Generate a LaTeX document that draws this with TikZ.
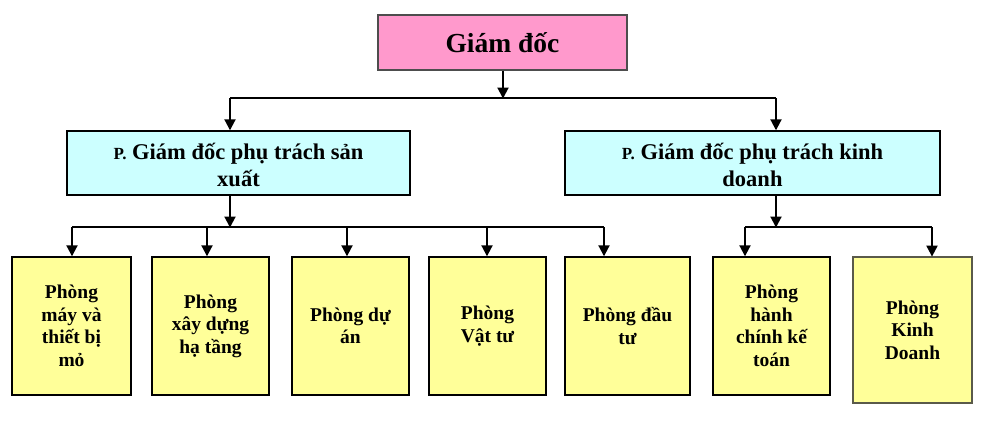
\documentclass[tikz,border=0pt]{standalone}
\usepackage{fontspec}
\setmainfont{Liberation Serif}
\usetikzlibrary{arrows.meta}
\definecolor{pinkbox}{HTML}{FF99CC}
\definecolor{cyanbox}{HTML}{CCFFFF}
\definecolor{yellowbox}{HTML}{FFFF99}
\definecolor{topborder}{HTML}{4D4D4D}
\definecolor{grayborder}{HTML}{5A5A4A}
\tikzset{
  box/.style={draw=black, line width=2.4pt, inner sep=0pt, align=center, font=\bfseries},
  topbox/.style={box, fill=pinkbox, draw=topborder, line width=1.8pt, font=\bfseries\fontsize{27.5}{30}\selectfont},
  midbox/.style={box, fill=cyanbox, font=\bfseries\fontsize{22.5}{27}\selectfont},
  unitbox/.style={box, fill=yellowbox, font=\bfseries\fontsize{19.5}{22.5}\selectfont},
  conn/.style={line width=2pt, draw=black},
  arr/.style={conn, -{Triangle[length=11pt,width=11pt]}, shorten >=-0.5pt},
}
\newcommand{\smP}{{\fontsize{17}{17}\selectfont P.}}
\begin{document}
\begin{tikzpicture}[x=1pt,y=-1pt]
\useasboundingbox (0,0) rectangle (983,421);
% boxes
\node[topbox, minimum width=249pt, minimum height=55pt] (gd) at (502.5,42.5) {Giám đốc};
\node[midbox, minimum width=343pt, minimum height=64pt] (pl) at (238.5,163) {\rule{0pt}{20pt}\smP\ Giám đốc phụ trách sản\\xuất};
\node[midbox, minimum width=375pt, minimum height=64pt] (pr) at (752.5,163) {\rule{0pt}{20pt}\smP\ Giám đốc phụ trách kinh\\doanh};
\node[unitbox, minimum width=119pt, minimum height=138pt] (u1) at (71.5,326) {Phòng\\máy và\\thiết bị\\mỏ};
\node[unitbox, minimum width=117pt, minimum height=138pt] (u2) at (210.5,326) {Phòng\\xây dựng\\hạ tầng};
\node[unitbox, minimum width=117pt, minimum height=138pt] (u3) at (350.5,326) {Phòng dự\\án};
\node[unitbox, minimum width=117pt, minimum height=138pt] (u4) at (487.5,326) {Phòng\\Vật tư};
\node[unitbox, minimum width=125pt, minimum height=138pt] (u5) at (627.5,326) {Phòng đầu\\tư};
\node[unitbox, minimum width=117pt, minimum height=138pt] (u6) at (771.5,326) {Phòng\\hành\\chính kế\\toán};
\node[unitbox, draw=grayborder, line width=1.8pt, minimum width=119pt, minimum height=146pt] (u7) at (912.5,330) {Phòng\\Kinh\\Doanh};
% junction coordinates
\coordinate (j0) at (503,98);
\coordinate (j0l) at (230,98);
\coordinate (j0r) at (776,98);
\coordinate (j1) at (230,227);
\coordinate (j1a) at (72,227);
\coordinate (j1b) at (207,227);
\coordinate (j1c) at (347,227);
\coordinate (j1d) at (487,227);
\coordinate (j1e) at (604,227);
\coordinate (j2) at (776,227);
\coordinate (j2a) at (745,227);
\coordinate (j2b) at (932,227);
% connectors level 1
\draw[arr] (gd.south -| j0) -- (j0);
\draw[conn] (j0l) -- (j0r);
\draw[arr] (j0l) -- (j0l |- pl.north);
\draw[arr] (j0r) -- (j0r |- pr.north);
% connectors level 2 left
\draw[arr] (pl.south -| j1) -- (j1);
\draw[conn] (j1a) -- (j1e);
\draw[arr] (j1a) -- (j1a |- u1.north);
\draw[arr] (j1b) -- (j1b |- u2.north);
\draw[arr] (j1c) -- (j1c |- u3.north);
\draw[arr] (j1d) -- (j1d |- u4.north);
\draw[arr] (j1e) -- (j1e |- u5.north);
% connectors level 2 right
\draw[arr] (pr.south -| j2) -- (j2);
\draw[conn] (j2a) -- (j2b);
\draw[arr] (j2a) -- (j2a |- u6.north);
\draw[arr] (j2b) -- (j2b |- u7.north);
\end{tikzpicture}
\end{document}
